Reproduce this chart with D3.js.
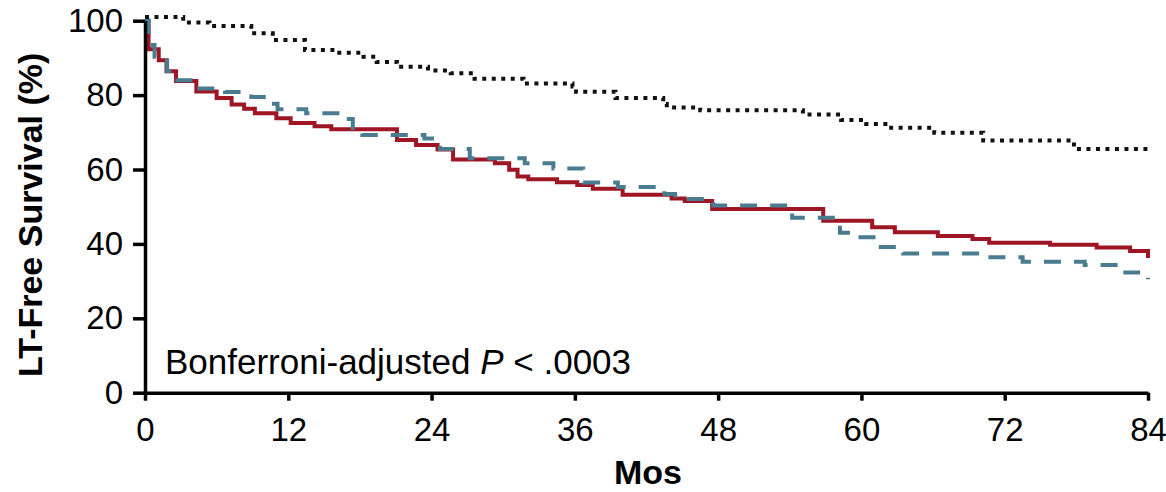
<!DOCTYPE html>
<html>
<head>
<meta charset="utf-8">
<script src="https://cdn.jsdelivr.net/npm/d3@7"></script>
<style>
  body { margin: 0; background: #fff; }
  text { font-family: "Liberation Sans", Arial, Helvetica, sans-serif; }
</style>
</head>
<body>
<svg id="chart" width="1166" height="492"></svg>
<script>
// ticks
const xTicks = [0, 12, 24, 36, 48, 60, 72, 84];
const yTicks = [0, 20, 40, 60, 80, 100];

// red solid curve: month where each step starts, survival %
const redMonths = [0, 0.3, 1.15, 1.8, 2.6, 4.3, 6.0, 7.25, 8.3, 9.2, 11.0, 12.2, 14.2, 15.6, 21.1, 22.7,
  24.5, 25.8, 29.3, 30.5, 31.2, 32.1, 34.5, 36.2, 37.5, 40.0, 44.1, 45.2, 47.5, 56.8, 60.9, 62.8,
  66.4, 69.3, 70.7, 75.8, 79.7, 82.5, 84];
const redSurv = [100, 92.3, 89.4, 86.4, 83.8, 81.0, 79.2, 77.5, 76.3, 75.1, 73.8, 72.5, 71.6, 70.8, 67.9, 66.6,
  65.4, 62.7, 61.7, 59.9, 58.1, 57.4, 56.6, 55.8, 54.8, 53.2, 52.2, 51.5, 49.4, 46.2, 44.5, 43.1,
  42.1, 41.3, 40.3, 39.8, 39.0, 38.1, 36.2];

// blue dashed curve
const blueMonths = [0, 0.3, 0.8, 1.85, 2.7, 4.3, 6.7, 8.9, 10.5, 11.1, 13.5, 16.7, 17.4, 18.2, 23.4,
  24.7, 27.2, 31.8, 34.2, 36.7, 39.6, 43.5, 44.4, 47.6, 54.2, 58.2, 59.6, 61.4, 63.5, 70.8, 73.5,
  78.7, 82.1, 84];
const blueSurv = [100, 93.5, 90.3, 86.4, 84.0, 81.8, 80.8, 79.5, 77.7, 76.2, 75.1, 73.6, 70.6, 69.3, 68.3,
  65.5, 63.0, 61.7, 60.3, 56.5, 55.3, 53.4, 52.1, 50.3, 47.0, 43.0, 41.8, 39.2, 37.4, 36.4, 35.2,
  34.3, 32.3, 30.5];

// black dotted curve
const dotMonths = [0, 3.2, 5.4, 8.9, 10.7, 13.4, 16.1, 18.3, 19.4, 21.1, 23.7, 25.6, 27.6, 31.7, 35.8,
  36.1, 39.4, 43.4, 43.7, 46.5, 55.1, 58.3, 60.4, 62.2, 66.1, 70.2, 77.8, 84];
const dotSurv = [101, 99.5, 98.6, 96.6, 94.8, 92.1, 91.4, 90.3, 88.9, 87.6, 86.6, 85.9, 84.4, 83.1, 82.3,
  80.9, 79.2, 77.6, 76.7, 75.9, 74.8, 73.3, 72.2, 71.2, 69.9, 67.8, 65.5, 65.5];

const svg = d3.select("#chart");

const x = d3.scaleLinear().domain([0, 84]).range([145, 1148]);
const y = d3.scaleLinear().domain([0, 100]).range([392.7, 20.7]);

const line = d3.line()
  .x(d => x(d[0]))
  .y(d => y(d[1]))
  .curve(d3.curveStepAfter);

const zip = (a, b) => a.map((v, i) => [v, b[i]]);

// curves
svg.append("path")
  .datum(zip(redMonths, redSurv))
  .attr("d", line)
  .attr("fill", "none")
  .attr("stroke", "#9e1624")
  .attr("stroke-width", 4);

svg.append("path")
  .datum(zip(blueMonths, blueSurv))
  .attr("d", line)
  .attr("fill", "none")
  .attr("stroke", "#4a7c90")
  .attr("stroke-width", 4)
  .attr("stroke-dasharray", "17,13");

svg.append("path")
  .datum(zip(dotMonths, dotSurv))
  .attr("d", line)
  .attr("fill", "none")
  .attr("stroke", "#111")
  .attr("stroke-width", 4)
  .attr("stroke-dasharray", "4,5.5");

// axes
const xAxis = svg.append("g")
  .attr("transform", `translate(0,${y(0)})`)
  .call(d3.axisBottom(x).tickValues(xTicks).tickSize(8).tickSizeOuter(0).tickPadding(17));

const yAxis = svg.append("g")
  .attr("transform", `translate(${x(0)},0)`)
  .call(d3.axisLeft(y).tickValues(yTicks).tickSize(12).tickSizeOuter(0).tickPadding(10));

[xAxis, yAxis].forEach(g => {
  g.select(".domain").attr("stroke", "#000").attr("stroke-width", 3.5);
  g.selectAll(".tick line").attr("stroke", "#000").attr("stroke-width", 3.5);
  g.selectAll(".tick text")
    .attr("fill", "#000")
    .style("font-size", "33px")
    .style("font-family", "'Liberation Sans', Arial, sans-serif");
});

// titles
svg.append("text")
  .attr("x", 648)
  .attr("y", 484)
  .attr("text-anchor", "middle")
  .style("font-size", "34px")
  .style("font-weight", "bold")
  .text("Mos");

svg.append("text")
  .attr("transform", "translate(41.5,377) rotate(-90)")
  .attr("text-anchor", "start")
  .style("font-size", "34px")
  .style("font-weight", "bold")
  .text("LT-Free Survival (%)");

// annotation
const note = svg.append("text")
  .attr("x", 165)
  .attr("y", 374)
  .style("font-size", "35px");
note.append("tspan").text("Bonferroni-adjusted ");
note.append("tspan").style("font-style", "italic").text("P");
note.append("tspan").text(" < .0003");
</script>
</body>
</html>
